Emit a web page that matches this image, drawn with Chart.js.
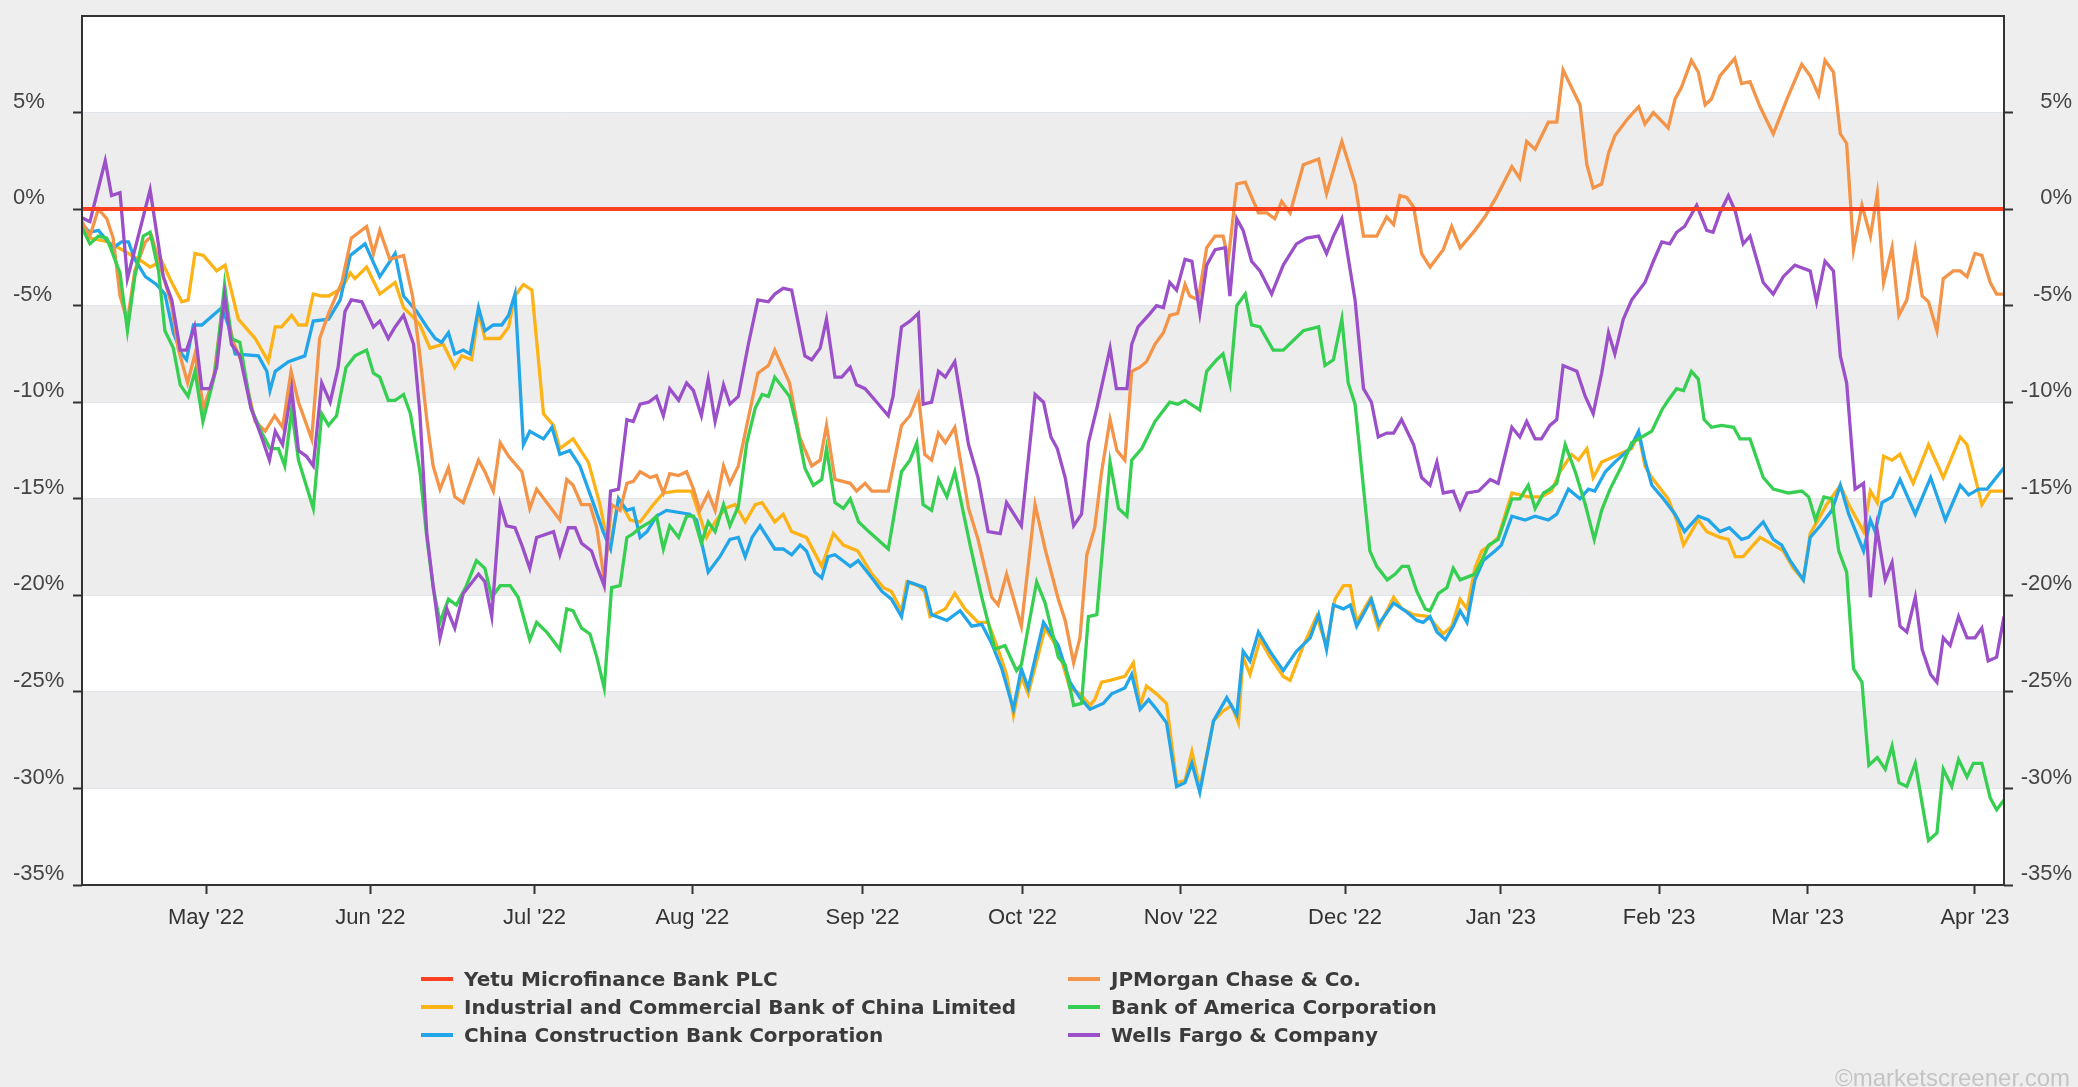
<!DOCTYPE html>
<html>
<head>
<meta charset="utf-8">
<script src="https://cdn.jsdelivr.net/npm/chart.js@4.4.0/dist/chart.umd.min.js"></script>
<style>
html, body { margin: 0; padding: 0; background: #eeeeee; }
#wrap { position: relative; width: 2078px; height: 1087px; overflow: hidden; font-family: 'Liberation Sans', Arial, sans-serif; }
#chart { position: absolute; left: 0; top: 0; }
#legend { position: absolute; left: 421px; top: 965px; display: grid; grid-template-columns: 647px auto; grid-auto-rows: 28px; }
.item { display: flex; align-items: center; font-family: 'DejaVu Sans', sans-serif; font-weight: bold; font-size: 20px; color: #3b3b3b; white-space: nowrap; }
.swatch { width: 32px; height: 4px; margin-right: 11px; }
#credit { position: absolute; left: 1835px; top: 1064px; font-size: 24px; color: #c4c4c4; white-space: nowrap; }
</style>
</head>
<body>
<div id="wrap">
  <canvas id="chart" width="2078" height="1087"></canvas>
  <div id="legend"></div>
  <div id="credit">©marketscreener.com</div>
</div>
<script>
// x = position on the session axis (0 = 7 Apr 2022, 364 = 6 Apr 2023), y = % change
var monthLabels = ["May '22", "Jun '22", "Jul '22", "Aug '22", "Sep '22", "Oct '22", "Nov '22", "Dec '22", "Jan '23", "Feb '23", "Mar '23", "Apr '23"];
var monthTicks = [23.5, 54.6, 85.7, 115.6, 147.8, 178.1, 208.1, 239.2, 268.7, 298.7, 326.8, 358.5];
var yTicks = [-35, -30, -25, -20, -15, -10, -5, 0, 5, 10];

var yetu = [[0, 0], [364, 0]];

var jpm = [[0,-0.65],[1.5,-1.4],[3.1,0],[4.7,-0.5],[5.9,-1.5],[7.2,-4.5],[8.6,-5.8],[10,-3.2],[12,-1.7],[13.2,-1.4],[15.1,-3.2],[17,-5.0],[18.2,-7.2],[20,-9.0],[21.4,-7.5],[23,-10.3],[24.9,-8.8],[26.8,-4.7],[28.7,-6.9],[30.2,-7.9],[32.8,-11.0],[34.7,-11.5],[36.5,-10.7],[38,-11.3],[39.6,-8.4],[41,-10.0],[43.5,-11.9],[45,-6.7],[46.7,-5.4],[49.2,-3.8],[51,-1.5],[53.9,-0.9],[55.2,-2.3],[56.4,-1.1],[58.3,-2.6],[60.9,-2.4],[62.6,-4.5],[64,-7.6],[65.3,-10.9],[66.5,-13.3],[67.8,-14.5],[69.4,-13.4],[70.6,-14.9],[72.2,-15.2],[75.1,-13.0],[76.3,-13.6],[77.9,-14.6],[79.2,-12.1],[80.8,-12.8],[83.3,-13.6],[84.8,-15.5],[86.1,-14.5],[88.3,-15.3],[90.5,-16.1],[91.8,-14.0],[93,-14.3],[94.6,-15.3],[96.2,-15.3],[97.5,-16.5],[98.9,-19.2],[100.3,-15.3],[101.9,-15.6],[103.2,-14.2],[104.4,-14.1],[105.7,-13.6],[107.6,-13.9],[108.8,-13.8],[110.1,-14.7],[111.3,-13.7],[113,-13.8],[114.5,-13.6],[115.8,-14.5],[117,-15.6],[118.6,-14.7],[119.9,-15.6],[121.5,-13.3],[122.7,-14.2],[124.3,-13.3],[125.9,-11.2],[128,-8.5],[130,-8.1],[131.2,-7.3],[134,-9.0],[135.9,-11.8],[138.2,-13.3],[139.8,-13.0],[141,-11.2],[142.6,-14.0],[145.5,-14.2],[146.7,-14.6],[148.3,-14.2],[149.6,-14.6],[152.7,-14.6],[155.2,-11.2],[156.8,-10.7],[158.4,-9.6],[159.6,-12.7],[160.9,-13.0],[162.2,-11.6],[163.5,-12.1],[165.3,-11.3],[167.9,-15.5],[169.7,-17.1],[172.3,-20.1],[173.5,-20.5],[175.1,-18.9],[177.9,-21.6],[180.5,-15.3],[182.4,-17.6],[184.9,-20.2],[186.2,-21.3],[187.8,-23.5],[189,-22.2],[190.3,-17.9],[191.8,-16.5],[193.1,-13.6],[194.7,-10.9],[196,-12.5],[197.5,-13.0],[198.8,-8.4],[200.3,-8.2],[201.6,-7.9],[203.2,-7.0],[204.8,-6.4],[206,-5.5],[207.5,-5.4],[208.9,-3.9],[209.8,-4.5],[211.4,-4.7],[213,-2.0],[214.6,-1.4],[216.1,-1.4],[217.1,-2.6],[218.7,1.3],[220.3,1.4],[222.8,-0.2],[224.4,-0.2],[225.9,-0.5],[227.2,0.4],[228.8,-0.2],[231.3,2.3],[234.2,2.6],[235.7,0.8],[238.6,3.5],[241.1,1.3],[242.7,-1.4],[245.2,-1.4],[247.1,-0.4],[248.4,-0.8],[249.6,0.7],[250.9,0.6],[252.2,0.1],[253.7,-2.3],[255.3,-3.0],[257.8,-2.1],[259.4,-0.9],[261,-2.0],[263.8,-1.1],[265.7,-0.4],[268,0.7],[270.8,2.2],[272.3,1.6],[273.6,3.5],[275.2,3.1],[277.7,4.5],[279.3,4.5],[280.5,7.2],[282.1,6.3],[283.7,5.4],[285,2.3],[286.2,1.1],[287.8,1.3],[289.1,2.9],[290.3,3.8],[292.8,4.7],[294.8,5.3],[296,4.4],[297.6,5.0],[300.4,4.2],[301.7,5.7],[302.9,6.3],[304.8,7.7],[306.1,7.1],[307.4,5.4],[308.6,5.7],[310.2,6.9],[313,7.8],[314.3,6.5],[315.9,6.6],[317.8,5.3],[320.3,3.9],[322.9,5.7],[325.7,7.5],[327.3,6.9],[328.9,5.9],[330.1,7.7],[331.7,7.1],[333,3.9],[334.2,3.4],[335.5,-2.1],[337.1,0.2],[338.7,-1.4],[340,0.8],[341.2,-3.8],[342.8,-2.0],[344.1,-5.5],[345.6,-4.7],[347.2,-2.1],[348.5,-4.5],[349.7,-4.8],[351.3,-6.3],[352.5,-3.6],[354.4,-3.2],[355.7,-3.2],[357,-3.5],[358.5,-2.3],[359.8,-2.4],[361.4,-3.8],[362.6,-4.4],[364,-4.4]];

var icbc = [[0,-1.1],[1.5,-1.5],[5,-1.7],[8.8,-2.3],[11.3,-2.7],[12.9,-3.0],[15.1,-2.7],[17,-3.8],[18.9,-4.8],[20.1,-4.7],[21.4,-2.3],[23,-2.4],[25.5,-3.2],[27.1,-2.9],[29.6,-5.7],[32.8,-6.7],[35.3,-7.9],[36.6,-6.1],[37.8,-6.1],[39.7,-5.5],[41,-6.0],[42.5,-6.0],[43.8,-4.4],[45.4,-4.5],[46.7,-4.5],[49.2,-4.1],[50.8,-3.3],[51.7,-3.6],[53.9,-3.0],[56.4,-4.4],[59.3,-3.8],[60.9,-5.1],[62.4,-5.5],[64,-6.0],[65.9,-7.2],[68.4,-7.0],[70.6,-8.2],[71.9,-7.6],[73.8,-7.8],[75.1,-5.3],[76.3,-6.7],[79.2,-6.7],[80.8,-6.1],[82,-4.5],[83.6,-3.9],[85.2,-4.2],[87.4,-10.6],[89.3,-11.2],[90.5,-12.4],[93,-11.9],[95.9,-13.1],[98.1,-15.3],[99.4,-17.1],[100.3,-17.1],[101.6,-15.0],[103.8,-16.1],[105.7,-16.2],[108.2,-15.3],[110.1,-14.7],[112.6,-14.6],[115.4,-14.6],[117,-15.9],[118.3,-17.0],[119.9,-16.2],[121.8,-15.5],[123.7,-15.3],[125.6,-16.2],[127.5,-15.3],[128.8,-15.2],[131.2,-16.2],[132.8,-15.8],[134.4,-16.7],[137.2,-17.0],[140.1,-18.5],[142.3,-16.8],[144.2,-17.4],[146.9,-17.7],[149.6,-18.9],[151.8,-19.6],[153.3,-19.8],[155.2,-20.8],[156.2,-19.3],[158.4,-19.5],[159.6,-19.8],[160.6,-21.1],[163.5,-20.7],[165.3,-19.9],[167.2,-20.7],[169.7,-21.4],[171.6,-21.4],[173.5,-22.8],[175.1,-24.1],[176.4,-26.2],[177.9,-24.2],[179.2,-25.1],[182.4,-21.7],[184.9,-22.8],[187.1,-24.8],[189,-25.1],[190.9,-25.7],[191.8,-25.4],[193.1,-24.5],[194.7,-24.4],[197.5,-24.2],[199.1,-23.5],[200.4,-25.7],[201.6,-24.7],[203.5,-25.1],[205.4,-25.6],[207.3,-29.7],[208.9,-29.6],[210.2,-28.1],[211.7,-30.0],[214.3,-26.5],[216.1,-26.0],[217.7,-25.7],[219,-26.6],[219.9,-23.2],[221.2,-24.1],[223.1,-22.3],[225,-23.2],[227.5,-24.2],[228.8,-24.4],[231.3,-22.6],[233.8,-21.1],[235.7,-22.6],[237.3,-20.2],[238.9,-19.5],[240.2,-19.5],[241.4,-21.4],[243.9,-20.2],[245.5,-21.7],[248.4,-20.1],[250,-20.7],[252.2,-21.0],[255,-21.1],[257.8,-22.0],[259.4,-21.6],[261,-20.2],[262.3,-20.7],[263.8,-18.6],[265.1,-17.7],[266.7,-17.4],[268.2,-17.0],[270.8,-14.7],[273.9,-14.9],[276.4,-14.9],[278.3,-14.6],[279.9,-13.6],[282.1,-12.7],[283.4,-13.0],[285,-12.4],[286.2,-13.9],[287.8,-13.1],[290.3,-12.8],[293.5,-12.4],[294.8,-11.6],[296,-13.3],[297.3,-13.9],[300.4,-15.0],[302,-16.1],[303.3,-17.4],[306.1,-16.1],[307.7,-16.7],[310.2,-17.0],[311.8,-17.1],[313.1,-18.0],[314.6,-18.0],[317.8,-17.0],[319.7,-17.3],[322.2,-17.7],[324.1,-18.6],[326,-19.2],[327.3,-16.8],[329.2,-15.9],[330.4,-15.3],[333,-14.3],[334.6,-15.3],[337.4,-16.7],[338.7,-14.6],[340,-15.2],[341.2,-12.8],[342.8,-13.0],[344.3,-12.7],[346.8,-14.2],[349.7,-12.2],[352.5,-13.9],[355.7,-11.8],[357,-12.2],[359.8,-15.3],[361.4,-14.6],[364,-14.6]];

var ccb = [[0,-0.8],[1.5,-1.2],[3.1,-1.1],[5.9,-2.0],[7.5,-1.7],[8.8,-1.7],[10,-2.6],[12,-3.5],[14.1,-3.9],[15.7,-4.4],[17.3,-6.4],[18.9,-7.5],[19.8,-7.8],[21.1,-6.0],[22.7,-6.0],[26.5,-5.1],[27.7,-6.0],[29,-7.5],[33.4,-7.6],[35,-8.4],[35.6,-9.4],[36.6,-8.4],[39.1,-7.9],[42.2,-7.6],[43.8,-5.8],[46.7,-5.7],[48.9,-4.7],[50.8,-2.4],[53.6,-1.8],[56.4,-3.5],[59.3,-2.3],[60.9,-4.5],[63.4,-5.3],[65.3,-6.1],[66.9,-6.7],[68.1,-6.9],[69.4,-6.4],[70.6,-7.5],[72.2,-7.3],[73.5,-7.5],[75.1,-5.1],[76.3,-6.3],[77.9,-6.0],[79.5,-6.0],[80.8,-5.5],[82,-4.4],[83.6,-12.2],[84.8,-11.5],[87.4,-11.9],[89,-11.3],[90.5,-12.7],[92.4,-12.5],[94.3,-13.3],[96.8,-15.2],[98.7,-16.7],[100.1,-17.6],[101.6,-15.0],[103.2,-15.6],[104.4,-15.5],[105.7,-17.0],[107,-16.7],[108.8,-15.9],[110.7,-15.6],[115.1,-15.8],[116.4,-16.1],[118.6,-18.8],[120.8,-18.0],[122.7,-17.1],[124.3,-17.0],[125.6,-18.0],[126.9,-17.0],[128.4,-16.4],[131.2,-17.6],[132.8,-17.6],[134.4,-17.9],[136,-17.4],[137.2,-17.7],[138.8,-18.8],[140.1,-19.1],[141.3,-18.0],[142.6,-17.9],[145.5,-18.5],[147,-18.2],[149.6,-19.1],[151.5,-19.8],[153.3,-20.2],[155.2,-21.1],[156.5,-19.3],[159.6,-19.6],[160.9,-21.0],[163.8,-21.3],[166.3,-20.8],[168.5,-21.6],[170.4,-21.5],[172.3,-22.5],[174.2,-23.8],[176.4,-25.9],[177.9,-23.8],[179.2,-24.8],[182.1,-21.4],[184.9,-22.6],[187.1,-24.5],[189,-25.3],[190.9,-25.9],[193.4,-25.6],[195,-25.1],[197.5,-24.8],[198.8,-24.1],[200.4,-25.9],[202,-25.4],[203.5,-25.9],[205.4,-26.6],[207.3,-29.9],[208.9,-29.7],[210.2,-28.7],[211.7,-30.2],[214.3,-26.5],[216.8,-25.3],[218.7,-26.2],[219.9,-22.9],[221.2,-23.4],[222.8,-21.9],[225,-22.9],[227.5,-23.9],[230,-22.9],[232.6,-22.2],[234.2,-21.0],[235.7,-22.8],[237,-20.5],[238.9,-20.7],[240.2,-20.5],[241.4,-21.6],[244.2,-20.2],[245.6,-21.5],[248.4,-20.4],[250.6,-20.8],[252.8,-21.3],[254,-21.4],[255.3,-21.1],[256.6,-21.9],[258.2,-22.3],[259.7,-21.6],[261,-20.8],[262.3,-21.4],[263.8,-19.2],[265.4,-18.2],[267.6,-17.7],[268.8,-17.4],[270.8,-15.9],[273.3,-16.1],[275.2,-15.9],[277.7,-16.1],[279.3,-15.8],[281.5,-14.5],[283.7,-15.0],[285.3,-14.5],[286.5,-14.6],[288.5,-13.6],[290.3,-13.1],[293.2,-12.4],[294.8,-11.5],[296,-13.0],[297.3,-14.3],[299.2,-14.9],[301.7,-15.8],[303.5,-16.7],[306.1,-15.9],[308,-16.1],[310.2,-16.7],[312,-16.5],[314.3,-17.1],[315.6,-17.0],[318.4,-16.2],[320.3,-17.1],[321.9,-17.4],[323.5,-18.2],[326,-19.2],[327.3,-17.0],[329.2,-16.4],[331.4,-15.6],[333,-14.3],[334.6,-15.8],[337.4,-17.7],[338.7,-16.1],[339.6,-16.7],[340.9,-15.2],[342.8,-14.9],[344.3,-14.0],[347.2,-15.8],[350.1,-13.9],[352.9,-16.1],[355.7,-14.3],[357.3,-14.8],[359.2,-14.5],[360.8,-14.5],[364,-13.4]];

var bofa = [[0,-0.95],[1.5,-1.8],[3.1,-1.4],[4.7,-1.5],[7.2,-3.3],[8.6,-6.3],[10,-3.5],[11.6,-1.4],[12.9,-1.2],[14.5,-3.2],[15.7,-6.3],[17.3,-7.2],[18.6,-9.1],[20.1,-9.7],[21.4,-8.4],[22.9,-11.0],[25.2,-8.5],[27,-3.9],[28.3,-6.7],[29.9,-6.9],[32,-10.3],[33.9,-11.5],[35.6,-12.4],[37.2,-12.4],[38.4,-13.3],[39.7,-10.4],[41,-13.0],[43.8,-15.5],[45.4,-10.6],[46.7,-11.2],[48.2,-10.7],[50,-8.2],[51.7,-7.6],[53.9,-7.3],[55.2,-8.5],[56.4,-8.7],[58,-9.9],[59.3,-9.9],[60.9,-9.6],[62.2,-10.6],[64,-13.6],[65.3,-17.0],[66.5,-19.6],[67.8,-21.4],[69.4,-20.2],[70.9,-20.5],[72.8,-19.5],[74.7,-18.2],[76.3,-18.6],[77.6,-20.1],[79.2,-19.5],[81.1,-19.5],[82.6,-20.1],[84.8,-22.3],[86.1,-21.4],[88,-21.9],[90.5,-22.8],[91.8,-20.7],[93,-20.8],[94.6,-21.7],[96.2,-22.0],[97.5,-23.2],[98.9,-24.8],[100.3,-19.6],[101.9,-19.5],[103.2,-17.0],[104.4,-16.8],[105.7,-16.5],[107.6,-16.2],[108.8,-15.9],[110.1,-17.6],[111.3,-16.4],[113,-17.0],[114.5,-15.9],[115.8,-15.9],[117.3,-17.3],[118.6,-16.2],[119.9,-16.7],[121.5,-15.3],[122.7,-16.4],[124.3,-15.4],[125.9,-12.1],[127.5,-10.3],[128.8,-9.6],[130,-9.7],[131.2,-8.7],[134,-9.7],[135.4,-11.3],[136.9,-13.4],[138.5,-14.3],[140.1,-14.0],[141,-12.4],[142.6,-15.2],[144.2,-15.5],[145.5,-15.0],[147.1,-16.2],[149,-16.7],[152.7,-17.6],[155.2,-13.6],[156.8,-13.0],[158.1,-12.1],[159.3,-15.3],[160.9,-15.6],[162.2,-14.0],[163.8,-14.9],[165.3,-13.6],[168.2,-17.4],[170.4,-20.1],[172.9,-22.8],[174.8,-22.6],[177,-23.9],[177.9,-23.6],[180.8,-19.3],[182.4,-20.4],[184.9,-23.2],[186.2,-23.6],[187.8,-25.7],[189.3,-25.6],[190.6,-21.1],[192.2,-21.0],[194.7,-13.1],[196.3,-15.5],[197.9,-15.9],[198.8,-13.0],[200.7,-12.4],[203.2,-11.0],[206,-10.0],[207.5,-10.1],[208.9,-9.9],[211.7,-10.4],[213,-8.4],[214.9,-7.8],[216.1,-7.5],[217.4,-9.0],[218.7,-5.0],[220.3,-4.4],[221.5,-6.0],[223.1,-6.1],[225.6,-7.3],[227.5,-7.3],[231.3,-6.3],[234.2,-6.1],[235.4,-8.1],[237,-7.8],[238.6,-5.7],[239.8,-9.0],[241.1,-10.1],[243.9,-17.7],[245.2,-18.5],[247.2,-19.2],[248.7,-18.9],[250,-18.5],[251.2,-18.5],[252.8,-19.8],[254.4,-20.7],[255.3,-20.8],[256.9,-19.9],[258.5,-19.6],[259.7,-18.6],[261,-19.2],[263.8,-18.9],[265.1,-18.2],[266.4,-17.4],[268.2,-17.1],[270.8,-15.0],[272.3,-15.0],[273.9,-14.3],[275.2,-15.5],[276.8,-14.7],[278,-14.5],[279.3,-14.2],[280.9,-12.2],[282.8,-13.6],[284.7,-15.3],[286.4,-17.1],[287.8,-15.6],[289.4,-14.5],[291.6,-13.3],[293.5,-12.1],[295.4,-11.8],[297.3,-11.5],[299.2,-10.4],[300.4,-9.9],[302,-9.3],[303.3,-9.4],[304.8,-8.4],[306.1,-8.8],[307.2,-10.9],[308.6,-11.3],[310.5,-11.2],[312.8,-11.3],[314,-11.9],[315.9,-11.9],[318.4,-13.9],[320.3,-14.5],[323.2,-14.7],[325.7,-14.6],[327,-14.9],[328.3,-16.1],[329.9,-14.9],[331.4,-15.0],[332.7,-17.7],[334.2,-18.8],[335.5,-23.8],[337.1,-24.5],[338.4,-28.8],[340,-28.4],[341.5,-29.0],[342.8,-27.8],[344.1,-29.7],[345.6,-29.9],[347.2,-28.7],[348.5,-30.8],[349.7,-32.7],[351.3,-32.3],[352.5,-29.0],[354.1,-29.9],[355.4,-28.5],[357,-29.4],[358.2,-28.7],[359.8,-28.7],[361.4,-30.5],[362.6,-31.1],[364,-30.6]];

var wf = [[0,-0.45],[1.5,-0.65],[4.4,2.5],[5.6,0.7],[7.2,0.85],[8.6,-3.6],[12.9,1.0],[15.4,-3.5],[17,-4.7],[18.6,-7.3],[19.8,-7.3],[21.3,-6.1],[22.7,-9.3],[24.2,-9.3],[25.5,-8.2],[27,-4.5],[28.3,-7.0],[29.9,-7.6],[32,-10.3],[34,-11.8],[35.5,-13.0],[36.6,-11.5],[38,-12.2],[39.7,-9.3],[41,-12.5],[42.5,-12.8],[43.8,-13.3],[45.4,-9.0],[47,-10.0],[48.5,-8.2],[49.8,-5.3],[51,-4.7],[53,-4.8],[55.2,-6.1],[56.4,-5.8],[58,-6.7],[59.3,-6.1],[60.9,-5.5],[62.8,-7.0],[64,-10.6],[65.3,-16.8],[66.5,-19.5],[67.8,-22.2],[69.1,-20.7],[70.6,-21.7],[72.2,-19.9],[75.1,-18.9],[76.3,-19.3],[77.6,-21.1],[79.2,-15.3],[80.4,-16.4],[82,-16.5],[83.3,-17.4],[84.8,-18.6],[86.1,-17.0],[89.3,-16.7],[90.5,-17.9],[92.1,-16.5],[93.4,-16.5],[94.6,-17.3],[96.5,-17.7],[97.5,-18.5],[98.9,-19.5],[100.1,-14.6],[101.6,-14.5],[103.2,-10.9],[104.4,-11.0],[105.7,-10.1],[107.3,-10.0],[108.8,-9.7],[110.1,-10.7],[111.3,-9.3],[113,-9.9],[114.5,-9.0],[115.8,-9.4],[117.3,-10.7],[118.6,-8.8],[119.9,-11.0],[121.5,-9.1],[122.7,-10.1],[124.3,-9.7],[126.2,-7.0],[128,-4.7],[130,-4.8],[131.2,-4.4],[132.8,-4.1],[134.4,-4.2],[136.9,-7.6],[138.2,-7.8],[139.8,-7.2],[141,-5.7],[142.6,-8.7],[143.9,-8.7],[145.5,-8.2],[146.7,-9.1],[148.3,-9.3],[150.2,-9.9],[152.7,-10.7],[153.6,-9.7],[155.2,-6.1],[156.8,-5.8],[158.4,-5.4],[159.3,-10.1],[160.9,-10.0],[162.2,-8.4],[163.5,-8.7],[165.3,-7.9],[167.9,-12.2],[169.7,-13.9],[171.6,-16.7],[173.9,-16.8],[175.1,-15.2],[177.9,-16.4],[180.5,-9.6],[182.1,-10.0],[183.5,-11.8],[184.7,-12.4],[186.2,-13.9],[187.8,-16.4],[189.3,-15.8],[190.6,-12.1],[192.2,-10.3],[194.7,-7.2],[195.9,-9.3],[197.9,-9.3],[198.8,-7.0],[200,-6.1],[202.3,-5.4],[203.5,-5.0],[204.8,-5.1],[206,-3.8],[207.3,-4.2],[208.9,-2.6],[210.2,-2.7],[211.7,-5.4],[213,-2.9],[214.6,-2.1],[216.5,-2.0],[217.4,-4.5],[218.7,-0.5],[219.9,-1.1],[221.5,-2.7],[223.1,-3.2],[225.3,-4.4],[227.5,-2.9],[230,-1.8],[231.9,-1.5],[234.2,-1.4],[235.7,-2.3],[237,-1.4],[238.6,-0.5],[241.1,-4.7],[242.7,-9.3],[244.2,-10.0],[245.5,-11.8],[247.1,-11.6],[248.4,-11.6],[249.9,-10.9],[252.2,-12.2],[253.7,-13.9],[255.3,-14.3],[256.6,-13.1],[257.8,-14.7],[259.7,-14.6],[261,-15.5],[262.3,-14.7],[264.5,-14.6],[266.7,-14.0],[268.2,-14.2],[270.8,-11.3],[272.3,-11.8],[273.6,-11.0],[275.2,-11.9],[276.4,-11.9],[278,-11.2],[279.3,-10.9],[280.5,-8.1],[283.1,-8.4],[284.7,-9.7],[286.2,-10.6],[287.8,-8.5],[289.1,-6.4],[290.3,-7.5],[291.9,-5.7],[293.5,-4.7],[296,-3.8],[297.6,-2.7],[299.2,-1.7],[300.7,-1.8],[302,-1.2],[303.5,-0.9],[305.8,0.2],[307.7,-1.1],[308.9,-1.2],[310.2,-0.2],[311.8,0.7],[313.1,-0.1],[314.6,-1.8],[315.9,-1.4],[318.4,-3.8],[320.3,-4.4],[322.2,-3.5],[324.4,-2.9],[327.3,-3.2],[328.5,-4.8],[330.1,-2.7],[331.7,-3.2],[333,-7.6],[334.2,-9.0],[335.8,-14.5],[337.4,-14.2],[338.7,-20.1],[339.9,-16.5],[341.5,-19.2],[342.8,-18.3],[344.3,-21.6],[345.6,-21.9],[347.2,-20.1],[348.5,-22.8],[350.1,-24.1],[351.3,-24.5],[352.5,-22.2],[353.8,-22.6],[355.4,-21.1],[357,-22.2],[358.5,-22.2],[359.8,-21.7],[361,-23.4],[362.6,-23.2],[364,-21.1]];

var seriesNames = ['Yetu Microfinance Bank PLC', 'Wells Fargo & Company', 'Bank of America Corporation', 'JPMorgan Chase & Co.', 'China Construction Bank Corporation', 'Industrial and Commercial Bank of China Limited'];
var seriesData = [yetu, wf, bofa, jpm, ccb, icbc];
var seriesColors = ['#fb4120', '#9b4fc9', '#37cf52', '#f39448', '#22a6e9', '#fdb216'];
// legend reads across: left column then right column on each row
var legendRows = ['Yetu Microfinance Bank PLC', 'JPMorgan Chase & Co.', 'Industrial and Commercial Bank of China Limited', 'Bank of America Corporation', 'China Construction Bank Corporation', 'Wells Fargo & Company'];

var panelPlugin = {
    id: 'panel',
    beforeDraw: function (chart) {
        var c = chart.ctx, a = chart.chartArea, y = chart.scales.y;
        c.save();
        c.fillStyle = '#eeeeee';
        c.fillRect(0, 0, chart.width, chart.height);
        c.fillStyle = '#ffffff';
        c.fillRect(a.left, a.top, a.right - a.left, a.bottom - a.top);
        // shaded bands every other 5% step
        c.fillStyle = '#ededed';
        for (var v = 5; v > -35; v -= 10) {
            var t = y.getPixelForValue(v), b = y.getPixelForValue(v - 5);
            c.fillRect(a.left, t, a.right - a.left, b - t);
        }
        c.restore();
    },
    afterDraw: function (chart) {
        var c = chart.ctx, a = chart.chartArea;
        c.save();
        c.strokeStyle = '#333333';
        c.lineWidth = 2;
        c.strokeRect(a.left, a.top, a.right - a.left, a.bottom - a.top);
        c.restore();
    }
};

var tickFont = { family: "'Liberation Sans', Arial, sans-serif", size: 22 };

function pctLabel(v) {
    return v === 10 ? null : v + '%';
}

function fixedYTicks(scale) {
    scale.ticks = yTicks.map(function (v) { return { value: v }; });
}

var ctx = document.getElementById('chart').getContext('2d');
var chart = new Chart(ctx, {
    type: 'line',
    data: {
        datasets: seriesNames.map(function (name, i) {
            return {
                label: name,
                data: seriesData[i].map(function (p) { return { x: p[0], y: p[1] }; }),
                borderColor: seriesColors[i],
                backgroundColor: seriesColors[i],
                borderWidth: i === 0 ? 4 : 3.3,
                pointRadius: 0,
                tension: 0,
                fill: false
            };
        })
    },
    options: {
        responsive: false,
        animation: false,
        devicePixelRatio: 1,
        layout: { padding: { left: 13, right: 6, top: 16, bottom: 140 } },
        plugins: {
            legend: { display: false },
            tooltip: { enabled: false }
        },
        scales: {
            x: {
                type: 'linear',
                min: 0,
                max: 364,
                border: { display: false },
                grid: { drawOnChartArea: false, tickLength: 9, tickColor: '#333333', tickWidth: 2 },
                afterBuildTicks: function (scale) {
                    scale.ticks = monthTicks.map(function (d) { return { value: d }; });
                },
                afterFit: function (scale) { scale.height = 62; },
                ticks: {
                    autoSkip: false,
                    maxRotation: 0,
                    padding: 11,
                    color: '#333333',
                    font: tickFont,
                    callback: function (v, i) { return monthLabels[i]; }
                }
            },
            y: {
                position: 'left',
                min: -35,
                max: 10,
                border: { display: false },
                grid: { color: '#e1e6ec', lineWidth: 1, tickLength: 9, tickColor: '#333333', tickWidth: 2 },
                afterBuildTicks: fixedYTicks,
                afterFit: function (scale) { scale.width = 69; scale.paddingTop = 0; scale.paddingBottom = 0; },
                ticks: { crossAlign: 'far', labelOffset: -11, color: '#444444', font: tickFont, callback: pctLabel }
            },
            y2: {
                position: 'right',
                min: -35,
                max: 10,
                border: { display: false },
                grid: { drawOnChartArea: false, tickLength: 9, tickColor: '#333333', tickWidth: 2 },
                afterBuildTicks: fixedYTicks,
                afterFit: function (scale) { scale.width = 68; scale.paddingTop = 0; scale.paddingBottom = 0; },
                ticks: { crossAlign: 'far', labelOffset: -11, color: '#444444', font: tickFont, callback: pctLabel }
            }
        }
    },
    plugins: [panelPlugin]
});

var legendBox = document.getElementById('legend');
legendRows.forEach(function (name) {
    var ds = chart.data.datasets.find(function (d) { return d.label === name; });
    var item = document.createElement('div');
    item.className = 'item';
    var sw = document.createElement('span');
    sw.className = 'swatch';
    sw.style.background = ds.borderColor;
    item.appendChild(sw);
    item.appendChild(document.createTextNode(name));
    legendBox.appendChild(item);
});
</script>
</body>
</html>
